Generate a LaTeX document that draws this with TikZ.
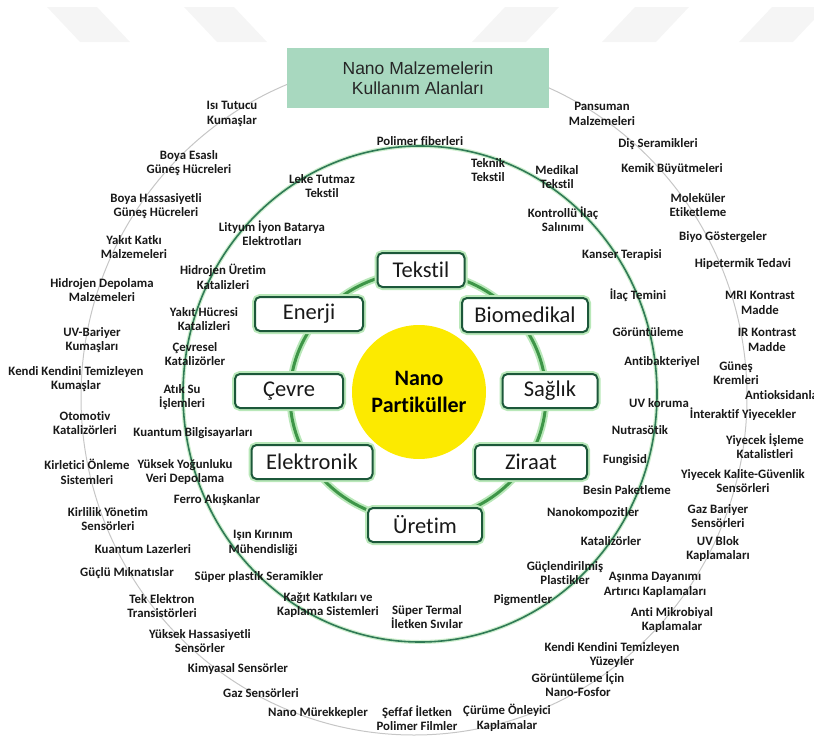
\documentclass[tikz,border=0pt]{standalone}
\usepackage{fontspec}
\setmainfont{Carlito}[Ligatures=NoCommon]
\newfontfamily\baslikfont{Liberation Sans}
\definecolor{kutucizgi}{RGB}{28,88,58}
\definecolor{parlama}{RGB}{185,232,185}
\definecolor{halka}{RGB}{62,150,72}
\definecolor{ortahalka}{RGB}{48,122,86}
\definecolor{baslikyesil}{RGB}{168,216,191}
\definecolor{nanosari}{RGB}{252,234,0}

\begin{document}
\begin{tikzpicture}[x=1pt,y=-1pt,
	uyg/.style={align=center,inner sep=0pt,text=black!90,font=\fontsize{12.8}{14.5}\selectfont\bfseries},
	alan/.style={draw=kutucizgi,line width=2pt,fill=white,rounded corners=5pt,minimum height=34pt,
		text=black!90,font=\fontsize{22.5}{24}\selectfont,preaction={draw=parlama,line width=6pt}}]
	\useasboundingbox (0,0) rectangle (814,736);
	% watermark
	\foreach \a in {47,184}
		\fill[gray!8] (\a,7) -- ++(50,0) -- ++(33,35) -- ++(-50,0) -- cycle;
	\foreach \a in {505,635,772}
		\fill[gray!8] (\a,7) -- ++(54,0) -- ++(-33,35) -- ++(-54,0) -- cycle;
	% rings
	\draw[gray!45,line width=1pt] (414,397) ellipse [x radius=333pt,y radius=338pt];
	\draw[parlama!70,line width=4pt] (420,394) ellipse [x radius=237pt,y radius=248pt];
	\draw[ortahalka,line width=1.6pt] (420,394) ellipse [x radius=237pt,y radius=248pt];
	\draw[parlama,line width=7pt] (418,396) ellipse [x radius=128pt,y radius=124pt];
	\draw[halka,line width=3pt] (418,396) ellipse [x radius=128pt,y radius=124pt];
	% title
	\node[fill=baslikyesil,minimum width=262pt,minimum height=60pt,align=center,text=black!85,
		font=\baslikfont\fontsize{17.5}{20}\selectfont] (baslik) at (418,78) {Nano Malzemelerin\\Kullanım Alanları};
	\node[circle,fill=nanosari,minimum size=134pt,align=center,
		font=\fontsize{22}{27}\selectfont\bfseries] (nano) at (419,392) {Nano\\Partiküller};
	\foreach \x/\y/\w/\t [count=\i] in {421/270/87/Tekstil, 309/314/108/Enerji, 525/315/126/Biomedikal,
		289/391/108/Çevre, 550/391/95/Sağlık, 312/462/121/Elektronik, 531/462/112/Ziraat, 425/525/114/Üretim}
		\node[alan,minimum width=\w pt] (alan\i) at (\x,\y) {\t};
	% outer labels
	\foreach \x/\y/\t [count=\i] in {232/114/{Isı Tutucu\\Kumaşlar}, 189/163/{Boya Esaslı\\Güneş Hücreleri},
		156/206/{Boya Hassasiyetli\\Güneş Hücreleri}, 134/247/{Yakıt Katkı\\Malzemeleri},
		102/290/{Hidrojen Depolama\\Malzemeleri}, 92/340/{UV-Bariyer\\Kumaşları},
		76/379/{Kendi Kendini Temizleyen\\Kumaşlar}, 85/423/{Otomotiv\\Katalizörleri},
		87/472/{Kirletici Önleme\\Sistemleri}, 108/519/{Kirlilik Yönetim\\Sensörleri},
		143/549/{Kuantum Lazerleri}, 127/573/{Güçlü Mıknatıslar}, 162/606/{Tek Elektron\\Transistörleri},
		200/641/{Yüksek Hassasiyetli\\Sensörler}, 238/669/{Kimyasal Sensörler}, 261/693/{Gaz Sensörleri},
		318/713/{Nano Mürekkepler}, 417/718/{Şeffaf İletken\\Polimer Filmler},
		507/718/{Çürüme Önleyici\\Kaplamalar}, 578/684/{Görüntüleme İçin\\Nano-Fosfor},
		612/655/{Kendi Kendini Temizleyen\\Yüzeyler}, 672/620/{Anti Mikrobiyal\\Kaplamalar},
		655/585/{Aşınma Dayanımı\\Artırıcı Kaplamaları}, 718/549/{UV Blok\\Kaplamaları},
		718/516/{Gaz Bariyer\\Sensörleri}, 743/481/{Yiyecek Kalite-Güvenlik\\Sensörleri},
		765/446/{Yiyecek İşleme\\Katalistleri}, 743/414/{İnteraktif Yiyecekler},
		736/373/{Güneş\\Kremleri}, 767/340/{IR Kontrast\\Madde}, 760/303/{MRI Kontrast\\Madde},
		743/264/{Hipetermik Tedavi}, 723/237/{Biyo Göstergeler}, 698/205/{Moleküler\\Etiketleme},
		672/169/{Kemik Büyütmeleri}, 658/144/{Diş Seramikleri}, 602/114/{Pansuman\\Malzemeleri}}
		\node[uyg] (dis\i) at (\x,\y) {\t};
	\node[uyg,anchor=west] (antioks) at (745,395) {Antioksidanlar};
	% inner labels
	\foreach \x/\y/\t [count=\i] in {420/141/{Polimer fiberleri}, 488/170/{Teknik\\Tekstil},
		557/177/{Medikal\\Tekstil}, 563/219/{Kontrollü İlaç\\Salınımı}, 622/255/{Kanser Terapisi},
		638/295/{İlaç Temini}, 648/332/{Görüntüleme}, 662/362/{Antibakteriyel}, 659/403/{UV koruma},
		640/430/{Nutrasötik}, 625/460/{Fungisid}, 627/490/{Besin Paketleme}, 593/513/{Nanokompozitler},
		611/541/{Katalizörler}, 565/573/{Güçlendirilmiş\\Plastikler}, 523/600/{Pigmentler},
		427/617/{Süper Termal\\İletken Sıvılar}, 328/605/{Kağıt Katkıları ve\\Kaplama Sistemleri},
		259/577/{Süper plastik Seramikler}, 263/543/{Işın Kırınım\\Mühendisliği},
		217/500/{Ferro Akışkanlar}, 185/472/{Yüksek Yoğunluku\\Veri Depolama},
		193/433/{Kuantum Bilgisayarları}, 182/397/{Atık Su\\İşlemleri}, 195/354/{Çevresel\\Katalizörler},
		204/319/{Yakıt Hücresi\\Katalizleri}, 223/277/{Hidrojen Üretim\\Katalizleri},
		272/233/{Lityum İyon Batarya\\Elektrotları}, 322/186/{Leke Tutmaz\\Tekstil}}
		\node[uyg] (ic\i) at (\x,\y) {\t};
\end{tikzpicture}
\end{document}
